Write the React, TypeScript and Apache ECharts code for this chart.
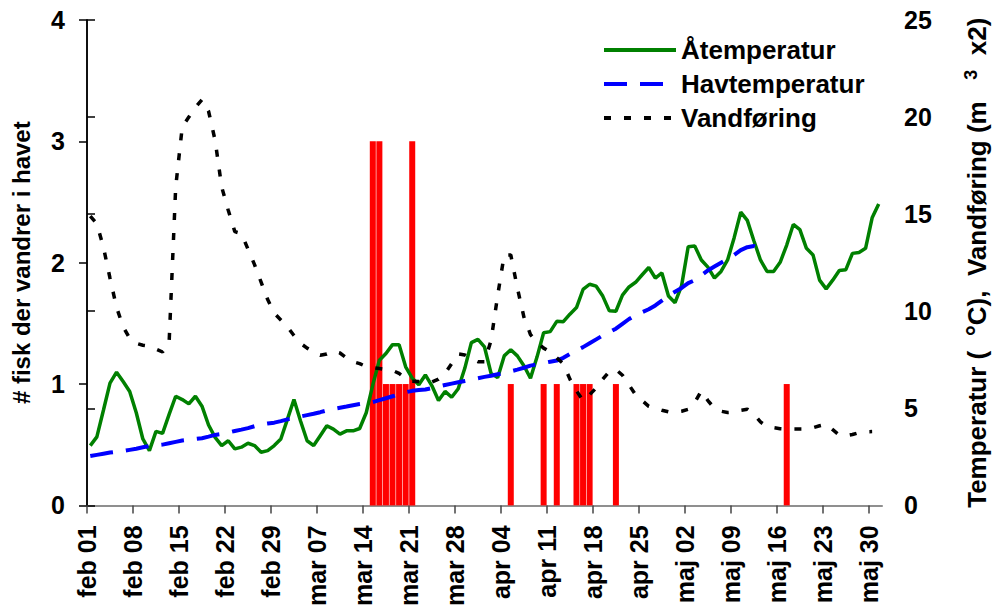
import React, { useEffect, useRef } from "react";
import * as echarts from "echarts";

// Day offsets are counted from feb 01 (day 0); the season ends on jun 01 (day 121).
const tickLabels = [
  "feb 01", "feb 08", "feb 15", "feb 22", "feb 29", "mar 07", "mar 14", "mar 21", "mar 28",
  "apr 04", "apr 11", "apr 18", "apr 25", "maj 02", "maj 09", "maj 16", "maj 23", "maj 30",
];

// Fish migrating to sea (left axis)
const fishDays = [43, 44, 45, 46, 47, 48, 49, 64, 69, 71, 74, 75, 76, 80, 106];
const fishCounts = [3, 3, 1, 1, 1, 1, 3, 1, 1, 1, 1, 1, 1, 1, 1];

// River temperature, one value per day from feb 01 (right axis)
const aaTemp = [
  3.08, 3.53, 4.9, 6.3, 6.86, 6.38, 5.87, 4.77, 3.42, 2.82,
  3.81, 3.71, 4.69, 5.62, 5.45, 5.23, 5.62, 5.11, 4.14, 3.5,
  3.08, 3.33, 2.91, 3.0, 3.2, 3.08, 2.74, 2.82, 3.08, 3.42,
  4.43, 5.45, 4.35, 3.33, 3.08, 3.59, 4.1, 3.93, 3.67, 3.84,
  3.84, 3.96, 4.77, 6.21, 7.48, 7.82, 8.28, 8.28, 7.14, 6.55,
  6.21, 6.72, 6.16, 5.4, 5.87, 5.57, 6.01, 7.06, 8.38, 8.55,
  8.16, 6.8, 6.58, 7.7, 8.02, 7.7, 7.19, 6.55, 7.65, 8.89,
  8.95, 9.48, 9.46, 9.85, 10.19, 11.12, 11.39, 11.29, 10.78, 10.02,
  10.0, 10.83, 11.25, 11.49, 11.88, 12.25, 11.71, 11.97, 10.78, 10.44,
  11.32, 13.32, 13.36, 12.64, 12.27, 11.71, 12.05, 12.64, 13.79, 15.1,
  14.68, 13.63, 12.64, 12.05, 12.05, 12.52, 13.41, 14.47, 14.2, 13.24,
  12.9, 11.6, 11.15, 11.6, 12.1, 12.14, 12.98, 13.03, 13.24, 14.81,
  15.52,
];

// Sea temperature, one value per day from feb 01 (right axis)
const havTemp = [
  2.54, 2.6, 2.66, 2.72, 2.76, 2.8, 2.86, 2.92, 2.99, 3.05,
  3.09, 3.13, 3.2, 3.27, 3.34, 3.38, 3.42, 3.46, 3.54, 3.63,
  3.68, 3.75, 3.83, 3.9, 3.98, 4.08, 4.17, 4.22, 4.26, 4.34,
  4.43, 4.51, 4.58, 4.65, 4.72, 4.8, 4.89, 4.97, 5.03, 5.09,
  5.16, 5.22, 5.27, 5.32, 5.42, 5.52, 5.62, 5.72, 5.83, 5.9,
  5.94, 5.97, 6.04, 6.12, 6.2, 6.27, 6.34, 6.41, 6.48, 6.55,
  6.62, 6.68, 6.75, 6.82, 6.9, 6.99, 7.09, 7.2, 7.27, 7.33,
  7.4, 7.46, 7.6, 7.8, 7.98, 8.15, 8.35, 8.55, 8.75, 8.92,
  9.1, 9.35, 9.6, 9.8, 9.95, 10.1, 10.3, 10.55, 10.8, 11.0,
  11.2, 11.45, 11.6, 11.85, 12.1, 12.3, 12.5, 12.7, 12.9, 13.15,
  13.3, 13.36, 13.19,
];

// Discharge (m3 x2), one value per day from feb 01 (right axis)
const vandforing = [
  14.9, 14.5, 13.3, 11.7, 10.2, 9.2, 8.6, 8.35, 8.25, 8.2,
  8.05, 7.9, 8.4, 16.4, 19.5, 20.0, 20.5, 20.9, 20.3, 18.8,
  16.4, 15.2, 14.1, 14.0, 13.2, 12.4, 11.5, 10.6, 9.9, 9.55,
  9.2, 8.75, 8.35, 8.1, 7.9, 7.73, 7.8, 7.95, 7.85, 7.6,
  7.4, 7.3, 7.15, 7.1, 7.05, 7.0, 6.95, 6.8, 6.55, 6.4,
  6.38, 6.37, 6.35, 6.5, 6.8, 7.3, 7.8, 7.75, 7.55, 7.4,
  7.4, 8.5, 10.8, 12.9, 12.9, 11.2, 9.7, 8.8, 8.4, 8.1,
  7.9, 7.6, 7.3, 6.5, 5.9, 5.4, 5.7, 6.05, 6.5, 6.9,
  7.0, 6.7, 6.2, 5.7, 5.4, 5.1, 5.0, 4.9, 4.82, 4.8,
  4.85, 4.95, 5.3, 5.9, 5.4, 5.0, 4.85, 4.78, 4.8, 4.9,
  4.95, 4.7, 4.3, 4.05, 4.0, 3.95, 3.93, 3.93, 3.93, 3.93,
  4.0, 4.1, 4.18, 3.9, 3.62, 3.58, 3.65, 3.75, 3.79, 3.8,
];

const seasonDays = 121;
const tickStep = 7;

const FONT = "'Liberation Sans', Arial, Helvetica, sans-serif";

export default function App() {
  const ref = useRef<HTMLDivElement>(null);

  useEffect(() => {
    if (!ref.current) return;
    const chart = echarts.init(ref.current, null, { renderer: "svg" });
    const daily = (arr: number[]) => arr.map((v, i) => [i + 0.5, v]);
    const tickValues = tickLabels.map((_, i) => i * tickStep);
    const labelStyle = { fontFamily: FONT, fontWeight: "bold" as const, color: "#000", fontSize: 25 };

    chart.setOption({
      animation: false,
      backgroundColor: "#fff",
      grid: { left: 87, right: 113, top: 20, bottom: 97, containLabel: false },
      legend: {
        orient: "vertical",
        left: 597,
        top: 32,
        itemWidth: 72,
        itemHeight: 14,
        itemGap: 8,
        itemStyle: { opacity: 0 },
        lineStyle: { width: 4 },
        data: ["Åtemperatur", "Havtemperatur", "Vandføring"],
        textStyle: { fontFamily: FONT, fontWeight: "bold", color: "#000", fontSize: 26, lineHeight: 26 },
      },
      xAxis: [
        {
          type: "value",
          min: 0,
          max: seasonDays,
          position: "bottom",
          axisLine: { show: true, lineStyle: { color: "#444", width: 1.5 } },
          axisTick: { show: true, customValues: tickValues, length: 8, lineStyle: { color: "#444", width: 1.5 } },
          axisLabel: {
            customValues: tickValues,
            formatter: (v: number) => tickLabels[Math.round(v / tickStep)] ?? "",
            rotate: 90,
            margin: 20,
            ...labelStyle,
          },
          splitLine: { show: false },
        },
        {
          type: "value",
          min: 0,
          max: seasonDays,
          position: "top",
          axisLine: { show: true, lineStyle: { color: "#999", width: 1.5 } },
          axisTick: { show: false },
          axisLabel: { show: false },
          splitLine: { show: false },
        },
      ],
      yAxis: [
        {
          type: "value",
          min: 0,
          max: 4,
          interval: 1,
          position: "left",
          name: "# fisk der vandrer i havet",
          nameLocation: "middle",
          nameGap: 54,
          nameTextStyle: { ...labelStyle, fontSize: 24 },
          axisLine: { show: true, lineStyle: { color: "#000", width: 1.5 } },
          axisTick: { show: true, length: 8, lineStyle: { color: "#000", width: 1.5 } },
          axisLabel: { margin: 22, ...labelStyle },
          splitLine: { show: false },
        },
        {
          type: "value",
          min: 0,
          max: 25,
          interval: 5,
          position: "right",
          name: "Temperatur (  {d|°}C),  Vandføring (m   {s|3}  x2)",
          nameLocation: "middle",
          nameGap: 80,
          nameTextStyle: {
            ...labelStyle,
            fontSize: 26,
            lineHeight: 30,
            rich: {
              d: { fontFamily: FONT, fontWeight: "bold", color: "#000", fontSize: 28, verticalAlign: "top", lineHeight: 30 },
              s: { fontFamily: FONT, fontWeight: "bold", color: "#000", fontSize: 18, verticalAlign: "top", lineHeight: 30 },
            },
          },
          axisLine: { show: true, lineStyle: { color: "#000", width: 1.5 } },
          axisTick: { show: true, length: 8, lineStyle: { color: "#000", width: 1.5 } },
          axisLabel: { margin: 22, ...labelStyle },
          splitLine: { show: false },
        },
      ],
      series: [
        {
          name: "Fisk",
          type: "bar",
          xAxisIndex: 0,
          yAxisIndex: 0,
          barWidth: 6,
          itemStyle: { color: "#FF0000" },
          data: fishDays.map((d, i) => [d + 0.5, fishCounts[i]]),
          z: 1,
        },
        {
          name: "Åtemperatur",
          type: "line",
          xAxisIndex: 0,
          yAxisIndex: 1,
          symbol: "none",
          showSymbol: false,
          lineStyle: { color: "#008000", width: 3.5 },
          itemStyle: { color: "#008000" },
          data: daily(aaTemp),
          z: 3,
        },
        {
          name: "Havtemperatur",
          type: "line",
          xAxisIndex: 0,
          yAxisIndex: 1,
          symbol: "none",
          showSymbol: false,
          lineStyle: { color: "#0000FF", width: 4, type: [23, 13] },
          itemStyle: { color: "#0000FF" },
          data: daily(havTemp),
          z: 3,
        },
        {
          name: "Vandføring",
          type: "line",
          xAxisIndex: 0,
          yAxisIndex: 1,
          symbol: "none",
          showSymbol: false,
          lineStyle: { color: "#000000", width: 3.5, type: [7, 13] },
          itemStyle: { color: "#000000" },
          data: daily(vandforing),
          z: 3,
        },
      ],
    });

    return () => chart.dispose();
  }, []);

  return (
    <div
      ref={ref}
      style={{ position: "fixed", left: 0, top: 0, width: 1000, height: 609, background: "#fff" }}
    />
  );
}
